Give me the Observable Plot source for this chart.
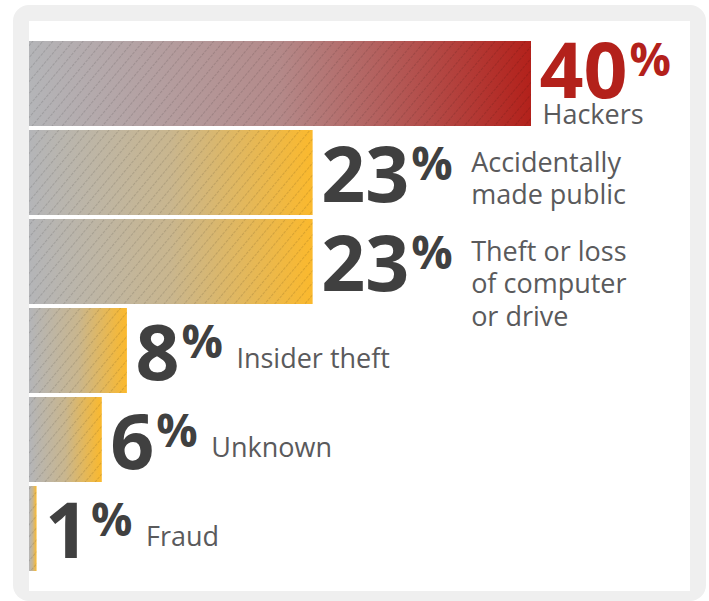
<!DOCTYPE html>
<html>
<head>
<meta charset="utf-8">
<script src="https://cdn.jsdelivr.net/npm/d3@7"></script>
<script src="https://cdn.jsdelivr.net/npm/@observablehq/plot@0.6"></script>
<style>
  html, body { margin: 0; padding: 0; background: #fff; }
  #frame {
    position: absolute; left: 13px; top: 5px;
    width: 661px; height: 570px;
    padding: 16px 16px 10px 16px;
    background: #efefef; border-radius: 16px;
  }
  #inner { background: #fff; width: 661px; height: 570px; }
</style>
</head>
<body>
<div id="frame"><div id="inner"></div></div>
<script>
// ---- data ----
const causes = ["Hackers", "Accidentally\nmade public", "Theft or loss\nof computer\nor drive", "Insider theft", "Unknown", "Fraud"];
const shares = [40, 22.6, 22.6, 7.8, 5.8, 0.6];   // bar lengths, % of breaches
const leadCause = "Hackers";

const data = causes.map((c, i) => ({
  cause: c,
  share: shares[i],
  pct: Math.round(shares[i]),
  lead: c === leadCause
}));

const RED = "#b3211b", GOLD = "#fbb92d", GREY = "#b4b5b8";
const DARK = "#404040", LABEL = "#5a5a5c";

const svg = Plot.plot({
  width: 661,
  height: 570,
  marginTop: 20,
  marginBottom: 20,
  marginLeft: 0,
  marginRight: 159,
  style: { background: "transparent", fontFamily: "'Open Sans', sans-serif", overflow: "visible" },
  x: { domain: [0, 40], axis: null },
  y: { domain: causes, axis: null, paddingInner: 0.045, paddingOuter: 0 },
  marks: [
    Plot.barX(data.filter(d => d.lead), { x: "share", y: "cause", fill: "url(#gradRed)" }),
    Plot.barX(data.filter(d => !d.lead), { x: "share", y: "cause", fill: "url(#gradGold)" }),
    Plot.barX(data, { x: "share", y: "cause", fill: "url(#hatch)" }),
    // big percentages
    Plot.text(data.filter(d => d.lead), {
      x: "share", y: "cause", text: d => d.pct + "%",
      textAnchor: "start", lineAnchor: "bottom", dx: 8, dy: 13.5,
      fontSize: 77, fontWeight: 700, fill: RED
    }),
    Plot.text(data.filter(d => !d.lead), {
      x: "share", y: "cause", text: d => d.pct + "%",
      textAnchor: "start", lineAnchor: "bottom", dx: 8, dy: 29,
      fontSize: 77, fontWeight: 700, fill: DARK
    }),
    // cause labels
    Plot.text(data.filter(d => d.lead), {
      x: "share", y: "cause", text: "cause",
      textAnchor: "start", lineAnchor: "bottom", dx: 11, dy: 39.5,
      fontSize: 27, fill: LABEL
    }),
    Plot.text(data.filter(d => !d.lead && d.pct >= 10), {
      x: "share", y: "cause", text: "cause",
      textAnchor: "start", lineAnchor: "top", lineHeight: 1.2, dx: 158, dy: -24,
      fontSize: 27, fill: LABEL
    }),
    Plot.text(data.filter(d => d.pct < 10), {
      x: "share", y: "cause", text: "cause",
      textAnchor: "start", lineAnchor: "bottom", dx: 109, dy: 17,
      fontSize: 27, fill: LABEL
    })
  ]
});

// gradients and hatch pattern
const defs = d3.select(svg).insert("defs", ":first-child");
function grad(id, to) {
  const g = defs.append("linearGradient").attr("id", id).attr("x1", 0).attr("x2", 1).attr("y1", 0).attr("y2", 0);
  g.append("stop").attr("offset", "0%").attr("stop-color", GREY);
  g.append("stop").attr("offset", "50%").attr("stop-color", d3.interpolateRgb(GREY, to)(0.3));
  g.append("stop").attr("offset", "100%").attr("stop-color", to);
}
grad("gradRed", RED);
grad("gradGold", GOLD);
const pat = defs.append("pattern").attr("id", "hatch")
  .attr("patternUnits", "userSpaceOnUse").attr("width", 7.7).attr("height", 20)
  .attr("patternTransform", "rotate(40)");
pat.append("line").attr("x1", 0.5).attr("x2", 0.5).attr("y1", 0).attr("y2", 20)
  .attr("stroke", "#000").attr("stroke-opacity", 0.12).attr("stroke-width", 1)
  .attr("stroke-dasharray", "3 1");

// superscript percent sign
d3.select(svg).selectAll("text").each(function () {
  const s = this.textContent;
  if (!s.endsWith("%")) return;
  const num = s.slice(0, -1), sign = s.slice(-1);
  this.textContent = "";
  d3.select(this).append("tspan").text(num);
  d3.select(this).append("tspan").attr("font-size", 46).attr("dy", -22).attr("dx", 2).text(sign);
});

document.getElementById("inner").appendChild(svg);
</script>
</body>
</html>
